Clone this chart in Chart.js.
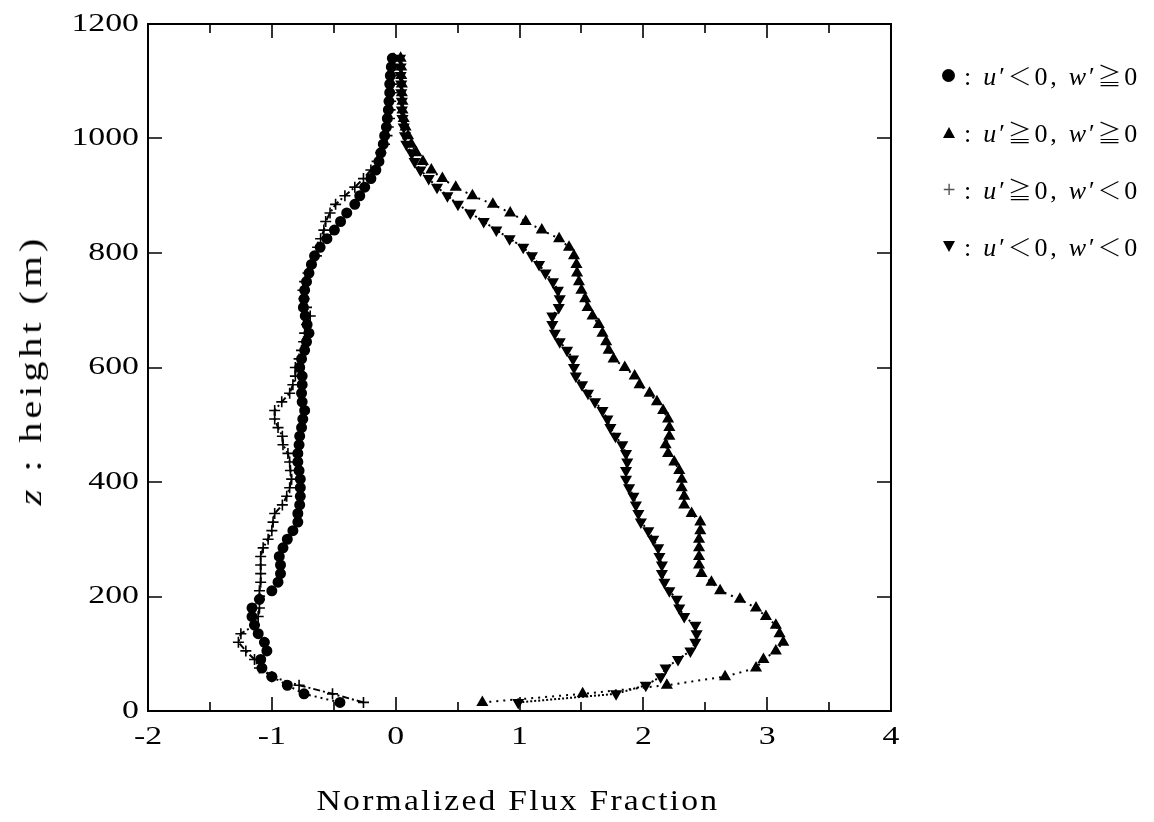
<!DOCTYPE html>
<html>
<head>
<meta charset="utf-8">
<script src="https://cdn.jsdelivr.net/npm/chart.js@4.4.0/dist/chart.umd.min.js"></script>
<style>
  html, body { margin: 0; padding: 0; background: #fff; }
  #wrap { position: relative; width: 1154px; height: 822px; font-family: "Liberation Serif", "Times New Roman", serif; color: #000; }
  #fluxChart { position: absolute; left: 0; top: 0; }
  .xtitle { position: absolute; left: 518px; top: 800px; transform: translate(-50%, -50%) scaleX(1.12); font-size: 30px; letter-spacing: 2px; white-space: nowrap; }
  .ytitle { position: absolute; left: 31px; top: 370px; transform: translate(-50%, -50%) rotate(-90deg) scaleX(1.3); font-size: 31px; letter-spacing: 3px; white-space: nowrap; }
  .legend { position: absolute; left: 940px; top: 57px; font-size: 26px; letter-spacing: 2.8px; }
  .legend .row { position: relative; height: 57px; line-height: 36px; white-space: nowrap; padding-left: 24px; }
  .legend i { font-style: italic; }
  .legend .rel { font-family: "Noto Sans CJK JP", "Noto Sans CJK SC", sans-serif; font-weight: 300; font-size: 24px; }
  .mk { position: absolute; left: 2px; top: 11px; }
  .mk.dot { width: 13px; height: 13px; border-radius: 50%; background: #000; left: 2px; top: 12px; }
  .mk.up { width: 0; height: 0; border-left: 6px solid transparent; border-right: 6px solid transparent; border-bottom: 11px solid #000; top: 13px; left: 3px; }
  .mk.down { width: 0; height: 0; border-left: 6px solid transparent; border-right: 6px solid transparent; border-top: 11px solid #000; top: 13px; left: 3px; }
  .mk.plus { font-family: "DejaVu Sans", sans-serif; font-size: 17px; line-height: 17px; color: #555; top: 10px; left: 2px; letter-spacing: 0; }
</style>
</head>
<body>
<div id="wrap">
  <canvas id="fluxChart" width="1154" height="822"></canvas>
  <div class="ytitle"><i>z</i> : height (m)</div>
  <div class="xtitle">Normalized Flux Fraction</div>
  <div class="legend">
    <div class="row"><span class="mk dot"></span>: <i>u</i>′<span class="rel">＜</span>0, <i>w</i>′<span class="rel">≧</span>0</div>
    <div class="row"><span class="mk up"></span>: <i>u</i>′<span class="rel">≧</span>0, <i>w</i>′<span class="rel">≧</span>0</div>
    <div class="row"><span class="mk plus">+</span>: <i>u</i>′<span class="rel">≧</span>0, <i>w</i>′<span class="rel">＜</span>0</div>
    <div class="row"><span class="mk down"></span>: <i>u</i>′<span class="rel">＜</span>0, <i>w</i>′<span class="rel">＜</span>0</div>
  </div>
</div>
<script>
// height levels (m)
var heights = [15, 30, 45, 60, 75, 90, 105, 120, 135, 150, 165, 180, 195, 210, 225, 240, 255, 270, 285, 300,
  315, 330, 345, 360, 375, 390, 405, 420, 435, 450, 465, 480, 495, 510, 525, 540, 555, 570, 585, 600,
  615, 630, 645, 660, 675, 690, 705, 720, 735, 750, 765, 780, 795, 810, 825, 840, 855, 870, 885, 900,
  915, 930, 945, 960, 975, 990, 1005, 1020, 1035, 1050, 1065, 1080, 1095, 1110, 1125, 1140];

// u'<0, w'>=0
var fluxQ2 = [-0.45, -0.74, -0.875, -1.0, -1.08, -1.09, -1.04, -1.06, -1.11, -1.14, -1.16, -1.16, -1.10, -1.00, -0.95, -0.93, -0.93, -0.94, -0.91, -0.875,
  -0.83, -0.79, -0.79, -0.775, -0.77, -0.77, -0.77, -0.78, -0.79, -0.79, -0.78, -0.775, -0.76, -0.75, -0.735, -0.755, -0.76, -0.755, -0.755, -0.775,
  -0.76, -0.735, -0.72, -0.70, -0.715, -0.73, -0.745, -0.74, -0.735, -0.72, -0.70, -0.68, -0.655, -0.61, -0.555, -0.495, -0.445, -0.395, -0.33, -0.29,
  -0.25, -0.20, -0.16, -0.135, -0.12, -0.10, -0.089, -0.075, -0.067, -0.059, -0.054, -0.048, -0.048, -0.043, -0.035, -0.027];

// u'>=0, w'>=0
var fluxQ1 = [0.70, 1.51, 2.19, 2.66, 2.91, 2.97, 3.07, 3.13, 3.10, 3.07, 2.99, 2.91, 2.78, 2.62, 2.55, 2.47, 2.45, 2.45, 2.45, 2.45,
  2.46, 2.46, 2.39, 2.33, 2.33, 2.31, 2.31, 2.29, 2.25, 2.20, 2.18, 2.21, 2.21, 2.20, 2.16, 2.11, 2.05, 1.97, 1.93, 1.85,
  1.76, 1.72, 1.70, 1.67, 1.64, 1.59, 1.55, 1.53, 1.50, 1.48, 1.465, 1.46, 1.44, 1.40, 1.32, 1.18, 1.05, 0.925, 0.785, 0.62,
  0.485, 0.377, 0.288, 0.22, 0.167, 0.127, 0.10, 0.08, 0.065, 0.055, 0.055, 0.05, 0.05, 0.045, 0.045, 0.04];

// u'>=0, w'<0
var fluxQ4 = [-0.26, -0.51, -0.78, -1.0, -1.10, -1.14, -1.21, -1.27, -1.25, -1.14, -1.11, -1.10, -1.10, -1.10, -1.09, -1.09, -1.09, -1.09, -1.07, -1.03,
  -1.0, -0.99, -0.977, -0.915, -0.88, -0.856, -0.84, -0.85, -0.856, -0.87, -0.91, -0.915, -0.95, -0.977, -0.977, -0.92, -0.856, -0.83, -0.81, -0.81,
  -0.78, -0.76, -0.743, -0.735, -0.72, -0.69, -0.72, -0.74, -0.749, -0.735, -0.708, -0.68, -0.64, -0.63, -0.606, -0.58, -0.565, -0.53, -0.485, -0.41,
  -0.33, -0.26, -0.20, -0.15, -0.12, -0.09, -0.07, -0.06, -0.05, -0.045, -0.04, -0.035, -0.03, -0.025, -0.02, -0.015];

// u'<0, w'<0
var fluxQ3 = [0.99, 1.78, 2.02, 2.14, 2.18, 2.28, 2.38, 2.42, 2.43, 2.42, 2.33, 2.29, 2.27, 2.21, 2.17, 2.15, 2.15, 2.13, 2.12, 2.08,
  2.04, 1.98, 1.96, 1.94, 1.92, 1.885, 1.86, 1.86, 1.87, 1.86, 1.83, 1.775, 1.734, 1.71, 1.67, 1.61, 1.553, 1.505, 1.455, 1.44,
  1.432, 1.384, 1.325, 1.285, 1.265, 1.265, 1.317, 1.325, 1.31, 1.27, 1.21, 1.158, 1.10, 1.03, 0.92, 0.813, 0.711, 0.603, 0.503, 0.418,
  0.334, 0.267, 0.20, 0.153, 0.127, 0.086, 0.075, 0.065, 0.055, 0.05, 0.05, 0.045, 0.045, 0.04, 0.04, 0.035];

var xTicks = [-2, -1, 0, 1, 2, 3, 4];
var xTickLabels = ['-2', '-1', '0', '1', '2', '3', '4'];
var xMinorTicks = [-1.5, -0.5, 0.5, 1.5, 2.5, 3.5];
var yTicks = [0, 200, 400, 600, 800, 1000, 1200];
var yTickLabels = ['0', '200', '400', '600', '800', '1000', '1200'];

function profile(values) {
  return values.map(function (v, i) { return { x: v, y: heights[i] }; });
}

// boxed frame with inward ticks and wide serif labels
var boxAxes = {
  id: 'boxAxes',
  afterDatasetsDraw: function (chart) {
    var ctx = chart.ctx, a = chart.chartArea;
    var xs = chart.scales.x, ys = chart.scales.y;
    ctx.save();
    ctx.strokeStyle = '#000';
    ctx.lineWidth = 2;
    ctx.strokeRect(a.left, a.top, a.right - a.left, a.bottom - a.top);
    ctx.lineWidth = 1.6;
    ctx.beginPath();
    xTicks.forEach(function (v) {
      var px = Math.round(xs.getPixelForValue(v));
      ctx.moveTo(px, a.bottom); ctx.lineTo(px, a.bottom - 14);
      ctx.moveTo(px, a.top); ctx.lineTo(px, a.top + 14);
    });
    xMinorTicks.forEach(function (v) {
      var px = Math.round(xs.getPixelForValue(v));
      ctx.moveTo(px, a.bottom); ctx.lineTo(px, a.bottom - 9);
      ctx.moveTo(px, a.top); ctx.lineTo(px, a.top + 9);
    });
    yTicks.forEach(function (v) {
      var py = Math.round(ys.getPixelForValue(v));
      ctx.moveTo(a.left, py); ctx.lineTo(a.left + 14, py);
      ctx.moveTo(a.right, py); ctx.lineTo(a.right - 14, py);
    });
    ctx.stroke();

    ctx.fillStyle = '#000';
    ctx.font = '26px "Liberation Serif", serif';
    ctx.textBaseline = 'middle';
    xTicks.forEach(function (v, i) {
      ctx.save();
      ctx.translate(xs.getPixelForValue(v), a.bottom + 26);
      ctx.scale(1.3, 1);
      ctx.textAlign = 'center';
      ctx.fillText(xTickLabels[i], 0, 0);
      ctx.restore();
    });
    yTicks.forEach(function (v, i) {
      ctx.save();
      ctx.translate(a.left - 9, ys.getPixelForValue(v));
      ctx.scale(1.3, 1);
      ctx.textAlign = 'right';
      ctx.fillText(yTickLabels[i], 0, 0);
      ctx.restore();
    });
    ctx.restore();
  }
};

var ctx = document.getElementById('fluxChart').getContext('2d');
var fluxChart = new Chart(ctx, {
  type: 'scatter',
  data: {
    datasets: [{
      label: "u'<0, w'>=0",
      data: profile(fluxQ2),
      showLine: true,
      borderColor: '#000',
      borderWidth: 2,
      borderDash: [2, 4],
      pointStyle: 'circle',
      pointRadius: 4.5,
      pointBackgroundColor: '#000',
      pointBorderColor: '#000'
    }, {
      label: "u'>=0, w'>=0",
      data: profile(fluxQ1),
      showLine: true,
      borderColor: '#000',
      borderWidth: 2,
      borderDash: [2, 5],
      pointStyle: 'triangle',
      pointRadius: 5,
      pointBackgroundColor: '#000',
      pointBorderColor: '#000'
    }, {
      label: "u'>=0, w'<0",
      data: profile(fluxQ4),
      showLine: true,
      borderColor: '#000',
      borderWidth: 2,
      borderDash: [7, 3, 2, 3],
      pointStyle: 'cross',
      pointRadius: 5.5,
      pointBorderWidth: 1.6,
      pointBorderColor: '#000'
    }, {
      label: "u'<0, w'<0",
      data: profile(fluxQ3),
      showLine: true,
      borderColor: '#000',
      borderWidth: 2,
      borderDash: [2, 2],
      pointStyle: 'triangle',
      rotation: 180,
      pointRadius: 5,
      pointBackgroundColor: '#000',
      pointBorderColor: '#000'
    }]
  },
  options: {
    responsive: false,
    animation: false,
    devicePixelRatio: 1,
    layout: { padding: { left: 148, top: 24, right: 263, bottom: 111 } },
    plugins: { legend: { display: false }, tooltip: { enabled: false } },
    scales: {
      x: { type: 'linear', min: -2, max: 4, display: false },
      y: { type: 'linear', min: 0, max: 1200, display: false }
    }
  },
  plugins: [boxAxes]
});
</script>
</body>
</html>
